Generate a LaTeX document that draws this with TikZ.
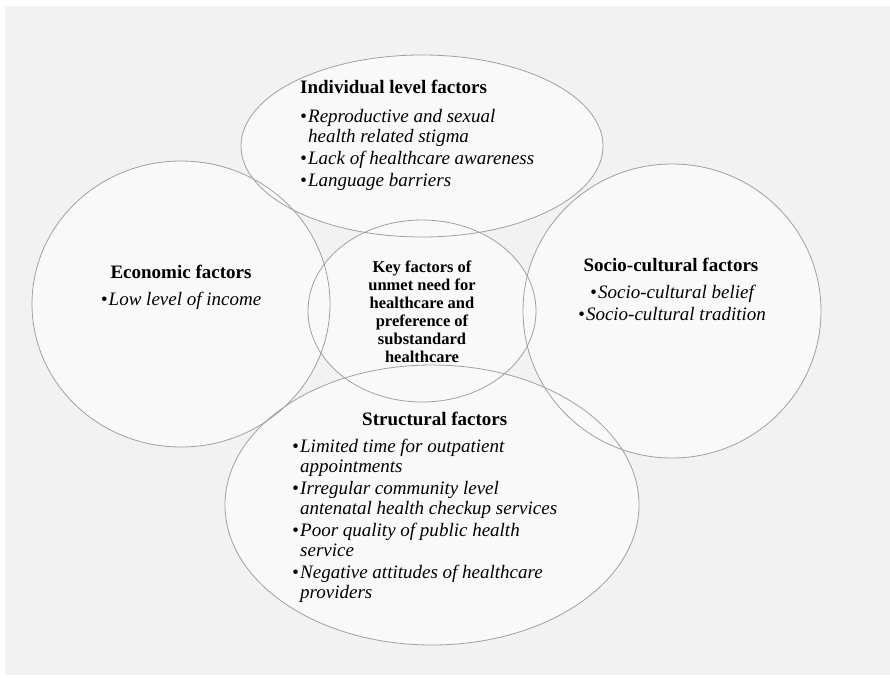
\documentclass[tikz,border=0pt]{standalone}
\usepackage{fontspec}
\setmainfont{Liberation Serif}
\usetikzlibrary{shapes.geometric}
\definecolor{bgcol}{RGB}{242,242,242}
\definecolor{circcol}{RGB}{249,249,249}
\definecolor{edgecol}{RGB}{160,160,160}
\newcommand{\bul}{\makebox[8pt][l]{\textbullet}}
\newcommand{\hang}{\hspace*{8pt}}

\begin{document}
\begin{tikzpicture}[x=1pt,y=-1pt,
  factor node/.style={ellipse,draw=edgecol,line width=0.8pt,inner sep=0pt},
  title node/.style={inner sep=0pt,font=\fontsize{19}{20}\selectfont\bfseries},
  item node/.style={inner sep=0pt,font=\fontsize{19}{20}\selectfont\itshape},
  key node/.style={inner sep=0pt,align=center,font=\fontsize{16.5}{18}\selectfont\bfseries}]
  \useasboundingbox (0,0) rectangle (890,677);
  \fill[bgcol] (5,6) rectangle (890,675);

  % fills first, so that every outline stays visible
  \foreach \x/\y/\rx/\ry in {181/304/149/143,672/311/149/147,422/146/181/91,432/505/207/140,422/311/114/91}
    \fill[circcol] (\x,\y) ellipse [x radius=\rx,y radius=\ry];

  \node[factor node,minimum width=298pt,minimum height=286pt] (econ) at (181,304) {};
  \node[factor node,minimum width=298pt,minimum height=294pt] (socio) at (672,311) {};
  \node[factor node,minimum width=362pt,minimum height=182pt] (indiv) at (422,146) {};
  \node[factor node,minimum width=414pt,minimum height=280pt] (struct) at (432,505) {};
  \node[factor node,minimum width=228pt,minimum height=182pt] (key) at (422,311) {};

  \node[title node,anchor=base west] (indiv title) at (300,93) {Individual level factors};
  \node[item node,anchor=north west,align=left] (indiv items) at (300,109)
    {\bul Reproductive and sexual\\ \hang health related stigma\\[2pt]
     \bul Lack of healthcare awareness\\[2pt] \bul Language barriers};

  \node[title node,anchor=base] (econ title) at (181,278) {Economic factors};
  \node[item node,anchor=base] (econ items) at (181,305) {\bul Low level of income};

  \node[title node,anchor=base] (socio title) at (671,271) {Socio-cultural factors};
  \node[item node,anchor=north,align=center] (socio items) at (672,285)
    {\bul Socio-cultural belief\\[2pt] \bul Socio-cultural tradition};

  \node[key node,anchor=north] (key text) at (422,261)
    {Key factors of\\unmet need for\\healthcare and\\preference of\\substandard\\healthcare};

  \node[title node,anchor=base west] (struct title) at (362,425) {Structural factors};
  \node[item node,anchor=north west,align=left] (struct items) at (292,439)
    {\bul Limited time for outpatient\\ \hang appointments\\[2pt]
     \bul Irregular community level\\ \hang antenatal health checkup services\\[2pt]
     \bul Poor quality of public health\\ \hang service\\[2pt]
     \bul Negative attitudes of healthcare\\ \hang providers};
\end{tikzpicture}
\end{document}
